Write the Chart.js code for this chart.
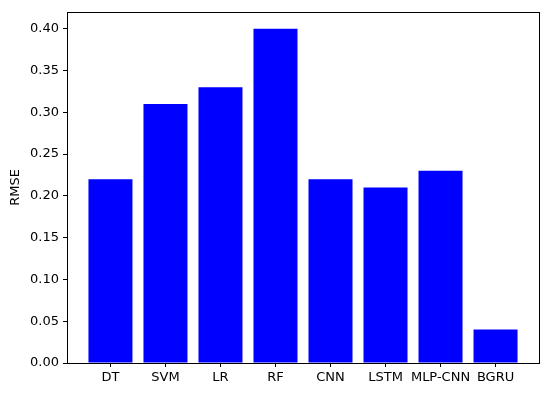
<!DOCTYPE html>
<html>
<head>
<meta charset="utf-8">
<script src="https://cdn.jsdelivr.net/npm/chart.js@4/dist/chart.umd.min.js"></script>
<style>
  html, body { margin: 0; padding: 0; background: #fff; }
  #wrap { width: 550px; height: 396px; }
</style>
</head>
<body>
<div id="wrap"><canvas id="myChart" width="550" height="396"></canvas></div>
<script>
// chart values
const models = ['DT', 'SVM', 'LR', 'RF', 'CNN', 'LSTM', 'MLP-CNN', 'BGRU'];
const rmse = [0.22, 0.31, 0.33, 0.40, 0.22, 0.21, 0.23, 0.04];
const yTicks = [0, 0.05, 0.10, 0.15, 0.20, 0.25, 0.30, 0.35, 0.40];

const fontFam = '"DejaVu Sans", sans-serif';

// draws the box around the plot area like matplotlib
const frame = {
  id: 'frame',
  afterDraw(chart) {
    const a = chart.chartArea, c = chart.ctx;
    c.save();
    c.strokeStyle = '#000';
    c.lineWidth = 1;
    c.strokeRect(Math.round(a.left) + 0.5, Math.round(a.top) + 0.5,
                 Math.round(a.right - a.left), Math.round(a.bottom - a.top));
    c.restore();
  }
};

const ctx = document.getElementById('myChart').getContext('2d');
new Chart(ctx, {
  type: 'bar',
  data: {
    datasets: [{
      data: rmse.map((v, i) => ({ x: i, y: v })),
      backgroundColor: '#0000ff',
      borderWidth: 0,
      categoryPercentage: 1,
      barPercentage: 0.8
    }]
  },
  options: {
    responsive: false,
    animation: false,
    layout: { padding: { top: 12, right: 11, left: 0, bottom: 0 } },
    plugins: { legend: { display: false }, tooltip: { enabled: false } },
    scales: {
      x: {
        type: 'linear',
        offset: false,
        min: -0.79,
        max: models.length - 1 + 0.79,
        afterFit: s => { s.height = 33; },
        afterBuildTicks: s => { s.ticks = models.map((m, i) => ({ value: i })); },
        grid: { display: true, offset: false, drawOnChartArea: false, drawTicks: true, tickLength: 4, color: '#000' },
        border: { display: true, color: '#000' },
        ticks: {
          autoSkip: false,
          maxRotation: 0,
          padding: 3,
          color: '#000',
          font: { family: fontFam, size: 13 },
          callback: v => models[v]
        }
      },
      y: {
        min: 0,
        max: 0.42,
        afterFit: s => { s.width = 67; },
        afterBuildTicks: s => { s.ticks = yTicks.map(v => ({ value: v })); },
        grid: { display: true, drawOnChartArea: false, drawTicks: true, tickLength: 4, color: '#000' },
        border: { display: true, color: '#000' },
        title: { display: true, text: 'RMSE', color: '#000', font: { family: fontFam, size: 13 }, padding: { top: 8, bottom: 0 } },
        ticks: {
          padding: 4,
          color: '#000',
          font: { family: fontFam, size: 13 },
          callback: v => v.toFixed(2)
        }
      }
    }
  },
  plugins: [frame]
});
</script>
</body>
</html>
